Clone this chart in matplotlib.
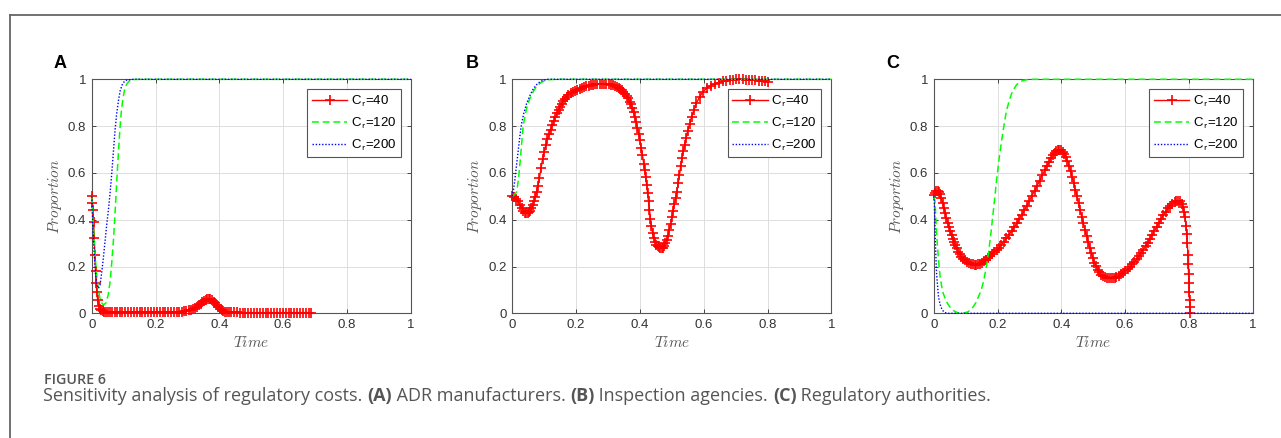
import matplotlib
matplotlib.use('Agg')
import matplotlib.pyplot as plt
from matplotlib.lines import Line2D

plt.rcParams['font.family'] = ['Liberation Sans', 'DejaVu Sans']
plt.rcParams['mathtext.fontset'] = 'cm'

# ---- data: (time, proportion) ----
ticks = [0, 0.2, 0.4, 0.6, 0.8, 1]
tick_labels = ['0', '0.2', '0.4', '0.6', '0.8', '1']
series_labels = [r'C$_{\mathsf{r}}$=40', r'C$_{\mathsf{r}}$=120', r'C$_{\mathsf{r}}$=200']

# Panel A - ADR manufacturers
a40 = [(0.000, 0.500), (0.002, 0.470), (0.004, 0.440), (0.006, 0.390), (0.008, 0.320),
       (0.010, 0.250), (0.012, 0.180), (0.014, 0.130), (0.016, 0.090), (0.019, 0.055),
       (0.022, 0.032), (0.026, 0.019), (0.030, 0.012), (0.035, 0.009), (0.040, 0.007),
       (0.046, 0.006), (0.052, 0.006), (0.058, 0.005), (0.065, 0.005), (0.072, 0.005),
       (0.080, 0.005), (0.088, 0.005), (0.096, 0.005), (0.105, 0.005), (0.114, 0.005),
       (0.123, 0.005), (0.132, 0.004), (0.141, 0.004), (0.150, 0.004), (0.159, 0.004),
       (0.168, 0.004), (0.177, 0.004), (0.186, 0.004), (0.195, 0.004), (0.204, 0.004),
       (0.213, 0.004), (0.222, 0.004), (0.231, 0.004), (0.240, 0.005), (0.249, 0.005),
       (0.258, 0.005), (0.267, 0.005), (0.275, 0.006), (0.283, 0.007), (0.290, 0.008),
       (0.297, 0.010), (0.304, 0.012), (0.311, 0.015), (0.318, 0.019), (0.324, 0.023),
       (0.330, 0.028), (0.336, 0.034), (0.342, 0.041), (0.347, 0.047), (0.352, 0.052),
       (0.357, 0.056), (0.362, 0.059), (0.367, 0.060), (0.372, 0.059), (0.377, 0.056),
       (0.382, 0.050), (0.387, 0.043), (0.392, 0.035), (0.397, 0.027), (0.402, 0.020),
       (0.407, 0.014), (0.412, 0.010), (0.417, 0.007), (0.423, 0.005), (0.430, 0.004),
       (0.438, 0.004), (0.446, 0.004), (0.455, 0.004), (0.464, 0.003), (0.473, 0.003),
       (0.482, 0.003), (0.491, 0.003), (0.500, 0.003), (0.509, 0.003), (0.518, 0.003),
       (0.527, 0.003), (0.536, 0.003), (0.545, 0.003), (0.554, 0.003), (0.563, 0.003),
       (0.572, 0.003), (0.581, 0.003), (0.590, 0.003), (0.599, 0.003), (0.608, 0.003),
       (0.617, 0.003), (0.626, 0.003), (0.635, 0.003), (0.644, 0.003), (0.653, 0.003),
       (0.662, 0.003), (0.671, 0.003), (0.680, 0.003), (0.686, 0.003)]
a120 = [(0.000, 0.500), (0.005, 0.380), (0.010, 0.260), (0.015, 0.170), (0.020, 0.110),
        (0.025, 0.070), (0.030, 0.047), (0.037, 0.036), (0.045, 0.045), (0.052, 0.080),
        (0.058, 0.140), (0.063, 0.220), (0.068, 0.310), (0.072, 0.400), (0.076, 0.500),
        (0.080, 0.600), (0.084, 0.690), (0.088, 0.780), (0.092, 0.850), (0.097, 0.910),
        (0.103, 0.955), (0.110, 0.980), (0.118, 0.993), (0.130, 0.999), (0.150, 1.000),
        (1.000, 1.000)]
a200 = [(0.000, 0.500), (0.004, 0.360), (0.008, 0.250), (0.012, 0.170), (0.016, 0.125),
        (0.021, 0.107), (0.026, 0.120), (0.031, 0.170), (0.036, 0.230), (0.042, 0.310),
        (0.048, 0.390), (0.053, 0.450), (0.058, 0.520), (0.063, 0.600), (0.068, 0.690),
        (0.073, 0.780), (0.078, 0.850), (0.084, 0.910), (0.089, 0.950), (0.095, 0.975),
        (0.102, 0.990), (0.110, 0.997), (0.130, 1.000), (1.000, 1.000)]

# Panel B - inspection agencies
b40 = [(0.000, 0.500), (0.006, 0.497), (0.012, 0.490), (0.018, 0.478), (0.024, 0.464),
       (0.030, 0.449), (0.035, 0.438), (0.040, 0.430), (0.044, 0.427), (0.048, 0.428),
       (0.052, 0.431), (0.056, 0.437), (0.060, 0.448), (0.064, 0.462), (0.068, 0.478),
       (0.072, 0.497), (0.076, 0.518), (0.080, 0.543), (0.085, 0.578), (0.090, 0.620),
       (0.095, 0.660), (0.100, 0.690), (0.105, 0.718), (0.110, 0.745), (0.115, 0.766),
       (0.120, 0.785), (0.125, 0.803), (0.130, 0.820), (0.135, 0.838), (0.140, 0.855),
       (0.145, 0.870), (0.150, 0.883), (0.155, 0.896), (0.160, 0.907), (0.165, 0.917),
       (0.170, 0.926), (0.176, 0.934), (0.183, 0.941), (0.190, 0.947), (0.197, 0.952),
       (0.204, 0.956), (0.211, 0.960), (0.218, 0.964), (0.225, 0.967), (0.232, 0.970),
       (0.239, 0.973), (0.246, 0.975), (0.253, 0.977), (0.260, 0.979), (0.267, 0.980),
       (0.274, 0.981), (0.281, 0.981), (0.288, 0.981), (0.295, 0.980), (0.302, 0.979),
       (0.309, 0.977), (0.315, 0.975), (0.321, 0.972), (0.327, 0.969), (0.333, 0.964),
       (0.338, 0.959), (0.343, 0.953), (0.348, 0.947), (0.353, 0.938), (0.358, 0.929),
       (0.363, 0.918), (0.368, 0.905), (0.372, 0.893), (0.376, 0.877), (0.380, 0.860),
       (0.384, 0.840), (0.388, 0.818), (0.392, 0.794), (0.396, 0.768), (0.400, 0.740),
       (0.404, 0.708), (0.408, 0.675), (0.412, 0.640), (0.415, 0.613), (0.418, 0.582),
       (0.421, 0.550), (0.424, 0.515), (0.427, 0.478), (0.430, 0.440), (0.433, 0.405),
       (0.436, 0.375), (0.440, 0.343), (0.444, 0.320), (0.448, 0.305), (0.452, 0.294),
       (0.456, 0.287), (0.460, 0.282), (0.464, 0.279), (0.468, 0.278), (0.472, 0.281),
       (0.476, 0.288), (0.480, 0.299), (0.484, 0.313), (0.488, 0.332), (0.492, 0.355),
       (0.496, 0.382), (0.500, 0.410), (0.504, 0.438), (0.508, 0.466), (0.512, 0.492),
       (0.516, 0.520), (0.520, 0.555), (0.524, 0.592), (0.528, 0.630), (0.532, 0.664),
       (0.536, 0.692), (0.540, 0.720), (0.545, 0.750), (0.550, 0.780), (0.556, 0.810),
       (0.562, 0.840), (0.569, 0.867), (0.577, 0.897), (0.587, 0.925), (0.598, 0.947),
       (0.610, 0.963), (0.622, 0.973), (0.635, 0.980), (0.648, 0.986), (0.660, 0.991),
       (0.671, 0.994), (0.682, 0.997), (0.692, 0.999), (0.702, 1.000), (0.712, 1.000),
       (0.722, 1.000), (0.732, 0.999), (0.742, 0.998), (0.752, 0.997), (0.762, 0.996),
       (0.772, 0.994), (0.782, 0.993), (0.792, 0.991), (0.802, 0.990)]
b120 = [(0.000, 0.500), (0.005, 0.505), (0.010, 0.512), (0.014, 0.520), (0.019, 0.570),
        (0.024, 0.640), (0.029, 0.720), (0.034, 0.800), (0.040, 0.845), (0.045, 0.876),
        (0.052, 0.907), (0.060, 0.933), (0.068, 0.953), (0.076, 0.969), (0.085, 0.981),
        (0.094, 0.989), (0.102, 0.994), (0.110, 0.997), (0.120, 0.999), (0.140, 1.000),
        (1.000, 1.000)]
b200 = [(0.000, 0.500), (0.004, 0.530), (0.008, 0.570), (0.013, 0.630), (0.019, 0.700),
        (0.024, 0.760), (0.029, 0.810), (0.036, 0.855), (0.045, 0.897), (0.055, 0.930),
        (0.066, 0.960), (0.077, 0.978), (0.087, 0.990), (0.097, 0.996), (0.110, 1.000),
        (1.000, 1.000)]

# Panel C - regulatory authorities
c40 = [(0.000, 0.506), (0.004, 0.515), (0.008, 0.522), (0.012, 0.524), (0.016, 0.520),
       (0.020, 0.508), (0.024, 0.492), (0.028, 0.472), (0.032, 0.450), (0.036, 0.428),
       (0.040, 0.407), (0.044, 0.387), (0.048, 0.368), (0.052, 0.350), (0.056, 0.333),
       (0.060, 0.318), (0.064, 0.304), (0.068, 0.290), (0.072, 0.278), (0.077, 0.264),
       (0.082, 0.252), (0.087, 0.242), (0.092, 0.234), (0.098, 0.227), (0.104, 0.220),
       (0.110, 0.215), (0.116, 0.211), (0.122, 0.209), (0.128, 0.208), (0.134, 0.208),
       (0.140, 0.209), (0.146, 0.212), (0.152, 0.216), (0.158, 0.222), (0.164, 0.229),
       (0.170, 0.236), (0.176, 0.243), (0.183, 0.252), (0.190, 0.262), (0.197, 0.271),
       (0.204, 0.281), (0.212, 0.293), (0.220, 0.306), (0.228, 0.320), (0.236, 0.335),
       (0.244, 0.351), (0.252, 0.367), (0.260, 0.384), (0.268, 0.402), (0.276, 0.421),
       (0.284, 0.440), (0.292, 0.460), (0.300, 0.481), (0.308, 0.502), (0.316, 0.523),
       (0.324, 0.545), (0.332, 0.567), (0.340, 0.589), (0.348, 0.611), (0.355, 0.630),
       (0.362, 0.648), (0.368, 0.663), (0.374, 0.676), (0.379, 0.686), (0.384, 0.693),
       (0.389, 0.697), (0.394, 0.698), (0.399, 0.696), (0.404, 0.690), (0.409, 0.680),
       (0.414, 0.667), (0.419, 0.650), (0.424, 0.630), (0.429, 0.607), (0.434, 0.582),
       (0.439, 0.556), (0.444, 0.528), (0.449, 0.500), (0.454, 0.471), (0.459, 0.442),
       (0.464, 0.413), (0.469, 0.385), (0.474, 0.357), (0.479, 0.330), (0.484, 0.304),
       (0.489, 0.280), (0.494, 0.257), (0.499, 0.236), (0.504, 0.217), (0.509, 0.201),
       (0.514, 0.187), (0.519, 0.175), (0.525, 0.165), (0.531, 0.158), (0.537, 0.153),
       (0.543, 0.150), (0.549, 0.149), (0.555, 0.149), (0.561, 0.150), (0.567, 0.152),
       (0.573, 0.156), (0.580, 0.160), (0.587, 0.166), (0.594, 0.173), (0.601, 0.181),
       (0.608, 0.190), (0.615, 0.199), (0.622, 0.209), (0.629, 0.219), (0.636, 0.231),
       (0.643, 0.244), (0.650, 0.257), (0.657, 0.271), (0.664, 0.286), (0.671, 0.302),
       (0.678, 0.319), (0.685, 0.336), (0.692, 0.353), (0.699, 0.370), (0.706, 0.387),
       (0.713, 0.404), (0.720, 0.420), (0.727, 0.435), (0.734, 0.448), (0.741, 0.459),
       (0.748, 0.468), (0.755, 0.475), (0.761, 0.479), (0.767, 0.481), (0.772, 0.478),
       (0.777, 0.469), (0.781, 0.456), (0.785, 0.435), (0.788, 0.410), (0.791, 0.375),
       (0.793, 0.340), (0.795, 0.300), (0.797, 0.250), (0.798, 0.210), (0.799, 0.170),
       (0.800, 0.130), (0.801, 0.090), (0.802, 0.055), (0.803, 0.025), (0.804, 0.000)]
c120 = [(0.000, 0.500), (0.004, 0.480), (0.009, 0.340), (0.015, 0.228), (0.020, 0.157),
        (0.025, 0.115), (0.030, 0.085), (0.038, 0.055), (0.046, 0.036), (0.056, 0.018),
        (0.067, 0.007), (0.078, 0.002), (0.088, 0.001), (0.098, 0.002), (0.108, 0.007),
        (0.116, 0.015), (0.124, 0.028), (0.132, 0.045), (0.140, 0.070), (0.148, 0.095),
        (0.156, 0.135), (0.164, 0.190), (0.172, 0.260), (0.180, 0.350), (0.188, 0.450),
        (0.196, 0.555), (0.204, 0.650), (0.212, 0.730), (0.220, 0.800), (0.228, 0.865),
        (0.236, 0.905), (0.244, 0.938), (0.252, 0.960), (0.260, 0.977), (0.270, 0.988),
        (0.280, 0.995), (0.295, 0.999), (0.310, 1.000), (1.000, 1.000)]
c200 = [(0.000, 0.500), (0.002, 0.480), (0.005, 0.310), (0.009, 0.170), (0.015, 0.070),
        (0.020, 0.038), (0.025, 0.020), (0.030, 0.009), (0.035, 0.003), (0.045, 0.000),
        (1.000, 0.000)]

panels = [('A', a40, a120, a200), ('B', b40, b120, b200), ('C', c40, c120, c200)]

caption_parts = [('Sensitivity analysis of regulatory costs. ', 'normal'), ('(A)', 'bold'),
                 (' ADR manufacturers. ', 'normal'), ('(B)', 'bold'),
                 (' Inspection agencies. ', 'normal'), ('(C)', 'bold'),
                 (' Regulatory authorities.', 'normal')]

W, H = 1281, 438
fig = plt.figure(figsize=(W / 100, H / 100), dpi=100)

# page frame (top and left rule)
fig.add_artist(Line2D([9.5 / W, 1], [1 - 14.5 / H, 1 - 14.5 / H], transform=fig.transFigure,
                      color='#666666', lw=1.3))
fig.add_artist(Line2D([9.5 / W, 9.5 / W], [0, 1 - 14.5 / H], transform=fig.transFigure,
                      color='#666666', lw=1.3))

lefts = [91.7, 512.3, 933.7]
letter_x = [60, 472.5, 892.5]
ax_w, ax_top, ax_bot = 319.0, 79.3, 313.3

for i, (letter, r40, r120, r200) in enumerate(panels):
    ax = fig.add_axes([lefts[i] / W, 1 - ax_bot / H, ax_w / W, (ax_bot - ax_top) / H])
    t, p = zip(*r40)
    ax.plot(t, p, color='red', lw=1.0, marker='+', ms=7, mew=1.2, label=series_labels[0],
            clip_on=False, zorder=3)
    t, p = zip(*r120)
    ax.plot(t, p, color='#00ff00', lw=1.1, ls=(0, (4.5, 2.5)), label=series_labels[1],
            clip_on=False, zorder=3)
    t, p = zip(*r200)
    ax.plot(t, p, color='blue', lw=1.0, ls=(0, (1, 1.3)), label=series_labels[2],
            clip_on=False, zorder=3)

    ax.set_xlim(0, 1)
    ax.set_ylim(0, 1)
    ax.set_xticks(ticks)
    ax.set_xticklabels(tick_labels)
    ax.set_yticks(ticks)
    ax.set_yticklabels(tick_labels)
    ax.grid(True, color='#dedede', lw=0.7)
    ax.set_axisbelow(True)
    ax.tick_params(direction='in', top=True, right=True, length=3, width=0.7,
                   labelsize=9.5, labelcolor='#333333', color='#444444', pad=4)
    for s in ax.spines.values():
        s.set_color('#555555')
        s.set_linewidth(0.8)
    ax.set_xlabel(r'$Time$', fontsize=11, color='#555555', labelpad=3)
    ax.set_ylabel(r'$Proportion$', fontsize=11, color='#555555', labelpad=3)

    leg = ax.legend(loc='upper right', bbox_to_anchor=(1 - 10 / ax_w, 1 - 10 / 234),
                    borderaxespad=0, fontsize=9.5, handlelength=2.7, handletextpad=0.25,
                    labelspacing=0.5, borderpad=0.35, fancybox=False, framealpha=1,
                    edgecolor='#555555')
    leg.get_frame().set_linewidth(0.8)
    leg.set_zorder(5)

    fig.text(letter_x[i] / W, 1 - 63 / H, letter, fontsize=13, fontweight='bold',
             ha='center', va='center', color='black')

fig.text(44 / W, 1 - 380 / H, 'FIGURE 6', fontsize=10.3, color='#555555',
         family='Open Sans', fontweight='semibold', ha='left', va='center')

# caption written piece by piece so the panel letters can be bold
renderer = fig.canvas.get_renderer()
x = 43.0
for txt, weight in caption_parts:
    t_obj = fig.text(x / W, 1 - 401 / H, txt, fontsize=13, color='#555555',
                     family='Open Sans', fontweight=weight, ha='left', va='baseline')
    x += t_obj.get_window_extent(renderer).width

fig.savefig('out.png', dpi=100)
